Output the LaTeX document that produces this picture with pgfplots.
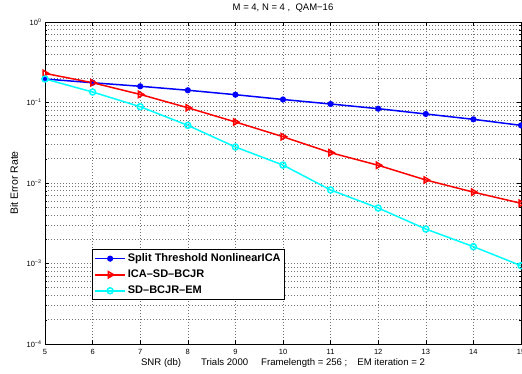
\documentclass[border=0pt]{standalone}
\usepackage{pgfplots}
\pgfplotsset{compat=1.18}
\usepackage{fontspec}
\setmainfont{Liberation Sans}
\definecolor{mblue}{rgb}{0,0,1}
\definecolor{mred}{rgb}{1,0,0}
\definecolor{mcyan}{rgb}{0,1,1}
\begin{document}
\begin{tikzpicture}
\begin{axis}[name=ax, at={(0,0)}, anchor=south west,
 scale only axis, width=476pt, height=322pt,
 xmin=5, xmax=15, ymode=log, ymin=1e-4, ymax=1,
 xtick={5,6,...,15},
 ytick={1e-4,1e-3,1e-2,1e-1,1},
 yticklabels={10\textsuperscript{−4},10\textsuperscript{−3},10\textsuperscript{−2},10\textsuperscript{−1},10\textsuperscript{0}},
 /pgf/number format/assume math mode=true,
 tick label style={font=\fontsize{7.5}{8}\selectfont},
 xticklabel style={yshift=-1.5pt},
 grid=both,
 major grid style={dash pattern=on 0.7pt off 2.3pt, black!55, line width=0.6pt},
 minor grid style={dash pattern=on 0.7pt off 2.3pt, black!55, line width=0.6pt},
 tick align=inside, major tick length=4pt, minor tick length=2pt,
 tick style={black, line width=0.5pt},
 axis line style={black, line width=0.8pt},
 title={M = 4, N = 4 ,\ \ QAM−16},
 title style={font=\fontsize{9.5}{10}\selectfont, at={(0.5,1)}, anchor=base, yshift=5pt},
 xlabel={SNR (db)\hspace{20pt}Trials 2000\hspace{13pt}Framelength = 256 ;\hspace{10pt}EM iteration = 2},
 xlabel style={font=\fontsize{9.6}{10}\selectfont, at={(0.5,0)}, anchor=base, yshift=-21pt},
 ylabel={Bit Error Rate},
 ylabel style={font=\fontsize{10.5}{11}\selectfont, at={(0,0.5)}, anchor=center, rotate=0, yshift=31pt},
 legend style={at={(0.0987,0.295)}, anchor=north west, draw=black, line width=0.8pt,
   fill=white, font=\bfseries\fontsize{11}{13}\selectfont, row sep=2.8pt,
   inner xsep=2pt, inner ysep=2.5pt},
 legend cell align=left,
 legend image code/.code={\draw[#1] (0pt,0pt) -- (15pt,0pt) plot coordinates {(15pt,0pt)} -- (30pt,0pt);},
]
\addplot[mblue, line width=1.5pt, mark=*, mark size=2.3pt, mark options={solid}] coordinates {
(5,0.196) (6,0.176) (7,0.159) (8,0.142) (9,0.125) (10,0.109) (11,0.0958) (12,0.0838) (13,0.072) (14,0.0618) (15,0.052)};
\addlegendentry{Split Threshold NonlinearICA}
\addplot[mred, line width=1.5pt, mark=triangle, mark size=3.6pt, mark options={solid, rotate=-90}] coordinates {
(5,0.23) (6,0.176) (7,0.126) (8,0.086) (9,0.0573) (10,0.0376) (11,0.0238) (12,0.0166) (13,0.0109) (14,0.0077) (15,0.0056)};
\addlegendentry{ICA–SD–BCJR}
\addplot[mcyan, line width=1.5pt, mark=o, mark size=3pt, mark options={solid}] coordinates {
(5,0.196) (6,0.135) (7,0.0887) (8,0.052) (9,0.028) (10,0.0167) (11,0.0082) (12,0.00489) (13,0.00268) (14,0.00162) (15,0.00094)};
\addlegendentry{SD–BCJR–EM}
\end{axis}
\pgfresetboundingbox
\path[use as bounding box] ([xshift=-45pt,yshift=-30pt]ax.south west) rectangle ([xshift=1pt,yshift=22pt]ax.north east);
\end{tikzpicture}
\end{document}
